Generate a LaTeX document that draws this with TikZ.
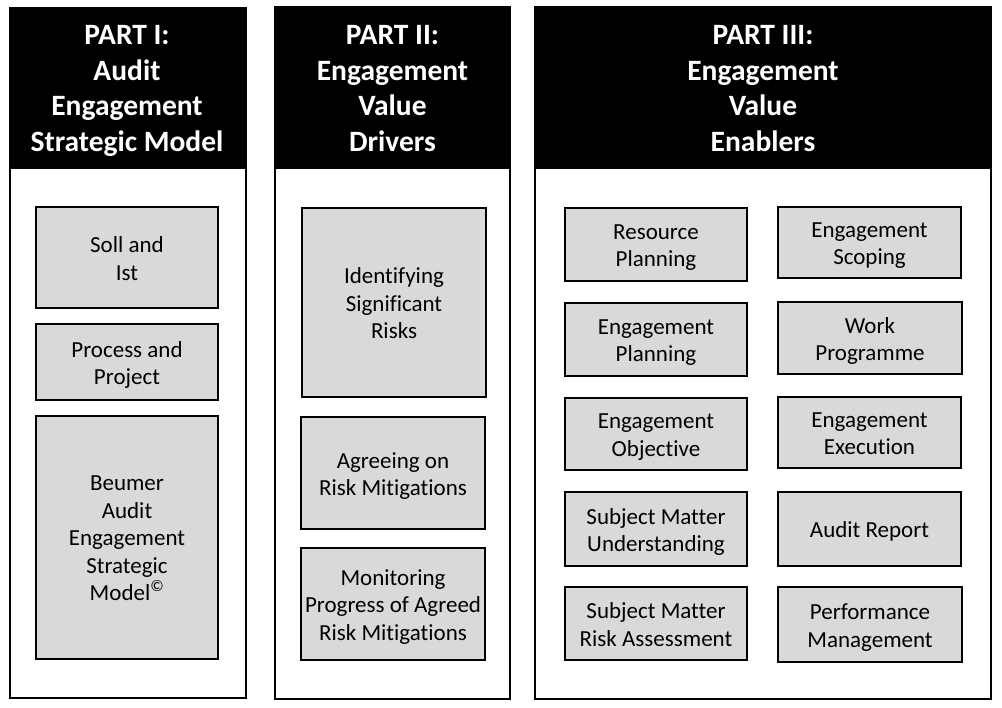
\documentclass[tikz,border=0pt]{standalone}
\usepackage{fontspec}
\setmainfont{Carlito}[Ligatures=NoCommon]
\definecolor{boxgray}{HTML}{D9D9D9}
\begin{document}
\begin{tikzpicture}[x=1pt,y=-1pt,
  frame/.style={draw=black, line width=2.2pt, fill=white},
  headbg/.style={fill=black, draw=black, line width=2.2pt},
  headtext/.style={text=white, align=center,
    font=\fontsize{29.5}{35.5}\selectfont\bfseries, inner sep=0pt,
    execute at begin node=\strut, execute at end node=\strut},
  itembox/.style={draw=black, line width=2.6pt, fill=boxgray, inner sep=0pt},
  itemtext/.style={align=center, font=\fontsize{23}{27.5}\selectfont, inner sep=0pt,
    execute at begin node=\strut, execute at end node=\strut, yshift=-5pt}]
\useasboundingbox (0,0) rectangle (1002,708);
% outer frames
\node[frame, minimum width=236pt, minimum height=690pt] (f1) at (128,353) {};
\node[frame, minimum width=235pt, minimum height=692pt] (f2) at (392.5,353) {};
\node[frame, minimum width=456pt, minimum height=692pt] (f3) at (763,353) {};
% headers
\node[headbg, minimum width=236pt, minimum height=160pt] (h1) at (128,88) {};
\node[headbg, minimum width=235pt, minimum height=161pt] (h2) at (392.5,87.5) {};
\node[headbg, minimum width=456pt, minimum height=161pt] (h3) at (763,87.5) {};
\node[headtext] (t1) at (127,94) {PART I:\\Audit\\Engagement\\Strategic Model};
\node[headtext] (t2) at (392.5,94) {PART II:\\Engagement\\Value\\Drivers};
\node[headtext] (t3) at (763,94) {PART III:\\Engagement\\Value\\Enablers};
% Part I
\node[itembox, minimum width=182pt, minimum height=101pt] (soll) at (127,257.5) {};
\node[itemtext] (soll-t) at (soll.center) {Soll and\\Ist};
\node[itembox, minimum width=182pt, minimum height=76pt] (proc) at (127,362) {};
\node[itemtext] (proc-t) at (proc.center) {Process and\\Project};
\node[itembox, minimum width=182pt, minimum height=243pt] (beum) at (127,537.5) {};
\node[itemtext] (beum-t) at (beum.center) {Beumer\\Audit\\Engagement\\Strategic\\Model\textsuperscript{©}};
% Part II
\node[itembox, minimum width=184pt, minimum height=189pt] (ident) at (394,302.5) {};
\node[itemtext] (ident-t) at (ident.center) {Identifying\\Significant\\Risks};
\node[itembox, minimum width=184pt, minimum height=112pt] (agree) at (393,473) {};
\node[itemtext] (agree-t) at (agree.center) {Agreeing on\\Risk Mitigations};
\node[itembox, minimum width=184pt, minimum height=112pt] (monit) at (393,604) {};
\node[itemtext] (monit-t) at (monit.center) {Monitoring\\Progress of Agreed\\Risk Mitigations};
% Part III left
\node[itembox, minimum width=182pt, minimum height=73pt] (res) at (656,244.5) {};
\node[itemtext] (res-t) at (res.center) {Resource\\Planning};
\node[itembox, minimum width=182pt, minimum height=73pt] (eplan) at (656,339.5) {};
\node[itemtext] (eplan-t) at (eplan.center) {Engagement\\Planning};
\node[itembox, minimum width=182pt, minimum height=72pt] (eobj) at (656,434) {};
\node[itemtext] (eobj-t) at (eobj.center) {Engagement\\Objective};
\node[itembox, minimum width=182pt, minimum height=74pt] (smu) at (656,529) {};
\node[itemtext] (smu-t) at (smu.center) {Subject Matter\\Understanding};
\node[itembox, minimum width=182pt, minimum height=73pt] (smr) at (656,623.5) {};
\node[itemtext] (smr-t) at (smr.center) {Subject Matter\\Risk Assessment};
% Part III right
\node[itembox, minimum width=183pt, minimum height=71pt] (escope) at (869.5,242.5) {};
\node[itemtext] (escope-t) at (escope.center) {Engagement\\Scoping};
\node[itembox, minimum width=184pt, minimum height=72pt] (work) at (870,338) {};
\node[itemtext] (work-t) at (work.center) {Work\\Programme};
\node[itembox, minimum width=183pt, minimum height=71pt] (eexec) at (869.5,432.5) {};
\node[itemtext] (eexec-t) at (eexec.center) {Engagement\\Execution};
\node[itembox, minimum width=183pt, minimum height=74pt] (arep) at (869.5,529) {};
\node[itemtext, yshift=2pt] (arep-t) at (arep.center) {Audit Report};
\node[itembox, minimum width=184pt, minimum height=75pt] (perf) at (870,624.5) {};
\node[itemtext] (perf-t) at (perf.center) {Performance\\Management};
\end{tikzpicture}
\end{document}
